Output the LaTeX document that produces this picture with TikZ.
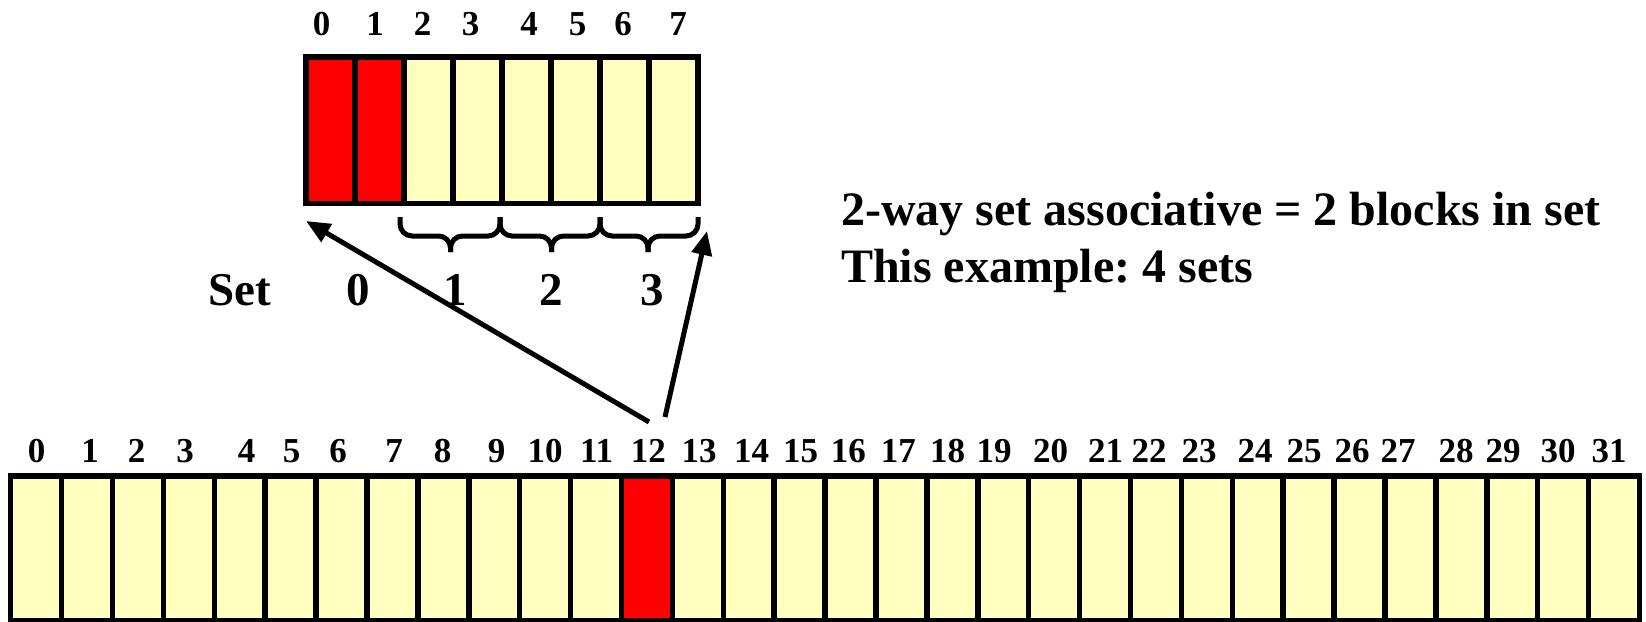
\documentclass[tikz,border=0pt]{standalone}
\usepackage{fontspec}
\setmainfont{Liberation Serif}
\usetikzlibrary{arrows.meta}
\definecolor{cellyellow}{RGB}{255,255,192}
\definecolor{cellred}{RGB}{255,0,0}
\tikzset{
  cell/.style={draw=black, line width=5.5pt, fill=cellyellow, rectangle, inner sep=0pt, outer sep=0pt},
  cachecell/.style={cell, minimum width=49pt, minimum height=146.5pt},
  memcell/.style={cell, minimum width=50.9pt, minimum height=145pt},
  hot/.style={fill=cellred},
  numlbl/.style={font=\fontsize{35}{40}\selectfont\bfseries, anchor=base, inner sep=0pt},
  biglbl/.style={font=\fontsize{47}{54}\selectfont\bfseries, anchor=base, inner sep=0pt},
  bigtext/.style={font=\fontsize{48}{54}\selectfont\bfseries\frenchspacing, anchor=base west, inner sep=0pt},
  setbrace/.style={draw=black, line width=5pt, rounded corners=12pt},
  arr/.style={draw=black, line width=5pt, -{Triangle[length=24pt,width=20pt]}}
}
\begin{document}
\begin{tikzpicture}[x=1pt,y=-1pt]
\useasboundingbox (0,0) rectangle (1646,621);
% cache
\foreach \i in {0,...,7}{
  \node[cachecell] (c\i) at ({306+49*(\i+0.5)},130.25) {};
}
\node[cachecell,hot] at (c0) {};
\node[cachecell,hot] at (c1) {};
\foreach \i/\x in {0/321.7,1/375,2/422.7,3/470.7,4/529,5/577.7,6/623,7/678}{
  \node[numlbl] (cl\i) at (\x,35) {\i};
}
% braces
\coordinate (b0) at (400,217);
\coordinate (b1) at (500,217);
\coordinate (b2) at (600,217);
\coordinate (b3) at (698,217);
\coordinate (k1) at (450.5,252);
\coordinate (k2) at (551.5,252);
\coordinate (k3) at (648,252);
\foreach \l/\r/\k in {b0/b1/k1, b1/b2/k2, b2/b3/k3}{
  \draw[setbrace] (\l) -- ++(0,19) -- (\k |- 0,236) -- (\k);
  \draw[setbrace] (\r) -- ++(0,19) -- (\k |- 0,236) -- (\k);
}
% set labels
\node[biglbl] (setlbl) at (240,305) {Set};
\node[biglbl] (s0) at (358,305) {0};
\node[biglbl] (s1) at (455,305) {1};
\node[biglbl] (s2) at (551,305) {2};
\node[biglbl] (s3) at (652,305) {3};
% description
\node[bigtext] (t1) at (841,225) {2-way set associative = 2 blocks in set};
\node[bigtext] (t2) at (841,282) {This example: 4 sets};
% memory
\foreach \i in {0,...,31}{
  \node[memcell] (m\i) at ({10.7+50.9*(\i+0.5)},548.5) {};
}
\node[memcell,hot] at (m12) {};
\foreach \i/\x in {0/36.7,1/90,2/136.7,3/185,4/246.7,5/291.7,6/338,7/394,8/442.5,9/496.7,10/545,11/596.7,12/648.3,13/699,14/751.7,15/800.7,16/848.3,17/898.3,18/947.5,19/994,20/1050.7,21/1105.7,22/1149,23/1199,24/1255,25/1304,26/1352,27/1398,28/1456,29/1503,30/1558,31/1609}{
  \node[numlbl] (ml\i) at (\x,462) {\i};
}
% arrows
\coordinate (a0) at (649,422);
\coordinate (a1) at (665,417);
\coordinate (tip0) at (306,221);
\coordinate (tip1) at (707,231);
\draw[arr] (a0) -- (tip0);
\draw[arr] (a1) -- (tip1);
\end{tikzpicture}
\end{document}
